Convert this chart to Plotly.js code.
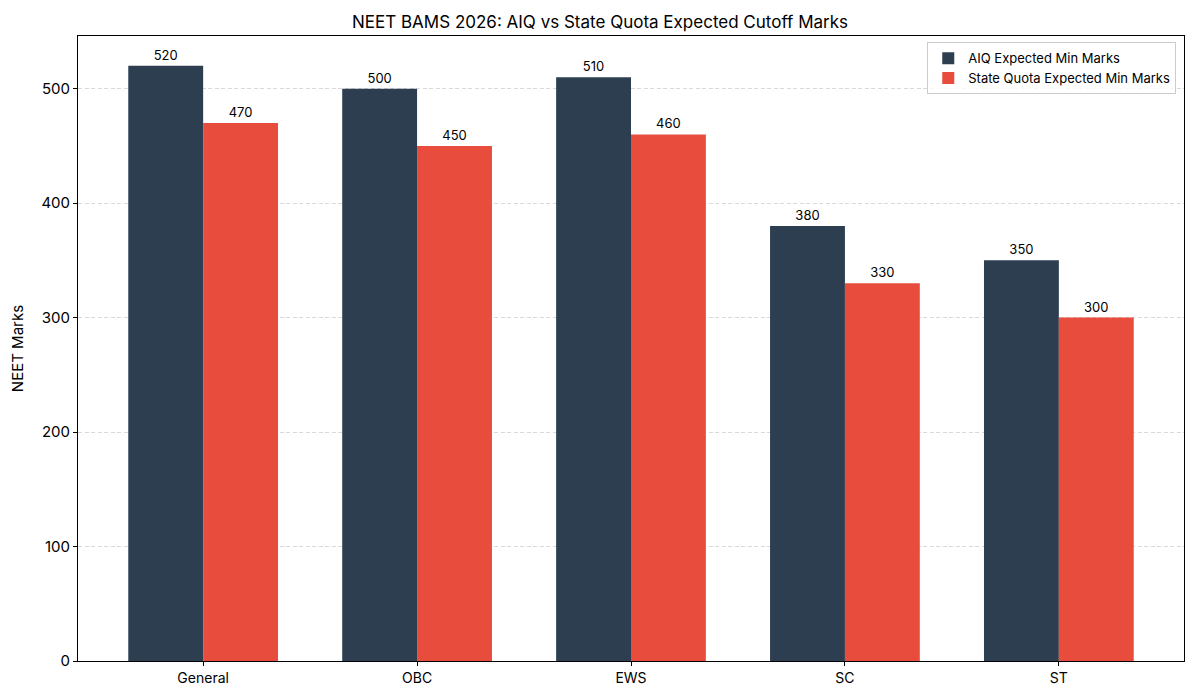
<!DOCTYPE html>
<html>
<head>
<meta charset="utf-8">
<script src="https://cdn.plot.ly/plotly-3.0.1.min.js"></script>
<style>html,body{margin:0;padding:0;background:#fff;}#chart{width:1200px;height:700px;}</style>
</head>
<body>
<div id="chart"></div>
<script>
const categories = ["General", "OBC", "EWS", "SC", "ST"];
const aiqMarks = [520, 500, 510, 380, 350];
const stateMarks = [470, 450, 460, 330, 300];
const seriesNames = ["AIQ Expected Min Marks", "State Quota Expected Min Marks"];

const FONT = "Inter, 'DejaVu Sans', sans-serif";

const traces = [
  {type: "bar", x: categories, y: aiqMarks, name: seriesNames[0],
   marker: {color: "#2c3e50"}, text: aiqMarks.map(String), textposition: "outside",
   textfont: {size: 13, color: "#000", family: FONT}, cliponaxis: false},
  {type: "bar", x: categories, y: stateMarks, name: seriesNames[1],
   marker: {color: "#e74c3c"}, text: stateMarks.map(String), textposition: "outside",
   textfont: {size: 13, color: "#000", family: FONT}, cliponaxis: false}
];

const layout = {
  width: 1200, height: 700,
  margin: {l: 78, r: 16, t: 36, b: 39},
  paper_bgcolor: "#fff", plot_bgcolor: "#fff",
  font: {family: FONT, color: "#000", size: 14},
  title: {text: "NEET BAMS 2026: AIQ vs State Quota Expected Cutoff Marks",
          font: {size: 17, family: FONT}, x: 0.5, xanchor: "center", y: 0.968, yanchor: "middle"},
  barmode: "group", bargap: 0.3, bargroupgap: 0,
  xaxis: {type: "category", range: [-0.585, 4.585], showline: true, linecolor: "#000", linewidth: 1,
          mirror: true, ticks: "outside", ticklen: 4, tickcolor: "#000", showgrid: false,
          tickfont: {size: 14}},
  yaxis: {range: [0, 546], showline: true, linecolor: "#000", linewidth: 1, mirror: true,
          ticks: "outside", ticklen: 4, tickcolor: "#000", dtick: 100, tick0: 0,
          showgrid: true, gridcolor: "#d9d9d9", griddash: "4px,2.5px", gridwidth: 1, zeroline: false,
          tickfont: {size: 15},
          title: {text: "NEET Marks", font: {size: 15}, standoff: 14}},
  legend: {x: 0.993, y: 0.99, xanchor: "right", yanchor: "top", bgcolor: "rgba(255,255,255,0.8)",
           bordercolor: "#cccccc", borderwidth: 1, font: {size: 13}, traceorder: "normal"},
  showlegend: true
};

Plotly.newPlot("chart", traces, layout, {displayModeBar: false, staticPlot: true});
</script>
</body>
</html>
